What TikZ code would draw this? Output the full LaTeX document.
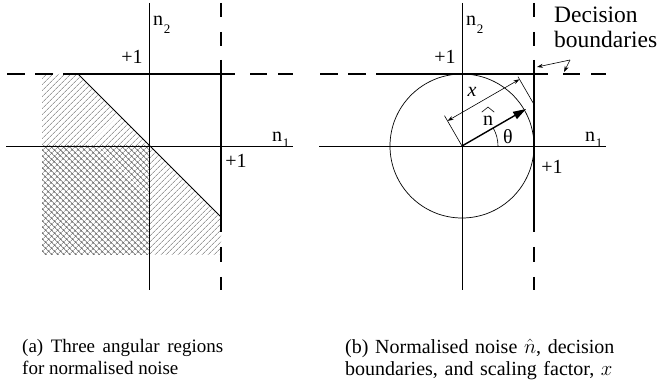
\documentclass[tikz,border=0pt]{standalone}
\usepackage{fontspec}
\setmainfont{Liberation Serif}
\usetikzlibrary{patterns.meta,arrows.meta,calc}
\begin{document}
\begin{tikzpicture}[x=1pt,y=1pt,
  axis/.style={line width=0.8pt},
  thickb/.style={line width=2.8pt},
  lbl/.style={inner sep=0pt,font=\fontsize{20}{24}\selectfont},
  subl/.style={inner sep=0pt,font=\fontsize{13}{13}\selectfont},
  capt/.style={inner sep=0pt,anchor=north west},
  hatchA/.style={pattern={Lines[angle=45,distance=4pt,line width=0.55pt]},pattern color=black!60},
  hatchX/.style={pattern={Hatch[angle=45,distance=4pt,line width=0.55pt]},pattern color=black!60},
  dimarrow/.style={line width=0.6pt,{Stealth[length=6pt,width=4pt]}-{Stealth[length=6pt,width=4pt]}},
  ptr/.style={line width=0.6pt,-{Stealth[length=6pt,width=4pt]}},
]
\useasboundingbox (0,0) rectangle (657,-390);

% ---------------- left panel ----------------
\fill[hatchA] (42,-74) -- (78,-74) -- (149,-146) -- (42,-146) -- cycle;
\fill[hatchX] (42,-146) rectangle (149,-255);
\fill[hatchA] (149,-146) -- (221,-218) -- (221,-255) -- (149,-255) -- cycle;
\draw[axis] (149,-3) -- (149,-290);
\draw[axis] (6,-146) -- (293,-146);
\draw[line width=0.8pt] (78,-74) -- (221,-217);
\draw[thickb,dash pattern=on 18pt off 10pt] (7,-74) -- (63,-74);
\draw[thickb] (63,-74) -- (235,-74);
\draw[thickb,dash pattern=on 17pt off 11pt] (250,-74) -- (293,-74);
\draw[thickb,dash pattern=on 14pt off 15pt] (221,-3) -- (221,-60);
\draw[thickb] (221,-60) -- (221,-232);
\draw[thickb,dash pattern=on 15pt off 15pt] (221,-247) -- (221,-290);

\node[lbl] (n2a) at (158,-21) {n};
\node[subl] (n2as) at (167,-29) {2};
\node[lbl] (p1a) at (132,-57) {+1};
\node[lbl] (n1a) at (277,-137) {n};
\node[subl] (n1as) at (286,-143) {1};
\node[lbl] (p1b) at (236,-161) {+1};

% ---------------- right panel ----------------
\coordinate (O) at (462,-146);
\draw[line width=0.7pt] (O) circle[radius=72];
\draw[axis] (462,-3) -- (462,-290);
\draw[axis] (319,-146) -- (606,-146);
\draw[thickb,dash pattern=on 18pt off 10pt] (320,-74) -- (376,-74);
\draw[thickb] (376,-74) -- (548,-74);
\draw[thickb,dash pattern=on 17pt off 11pt] (563,-74) -- (606,-74);
\draw[thickb,dash pattern=on 14pt off 15pt] (534,-3) -- (534,-60);
\draw[thickb] (534,-60) -- (534,-232);
\draw[thickb,dash pattern=on 15pt off 15pt] (534,-247) -- (534,-290);

\coordinate (H) at ($(O)+(72,41.57)$);
\coordinate (T) at ($(O)+(30:74)$);
\draw[line width=1.4pt,-{Triangle[length=13pt,width=8pt]}] (O) -- (T);
\draw[line width=0.6pt] (O) -- ($(O)+(120:35)$);
\draw[line width=0.6pt] (H) -- ($(H)+(120:32)$);
\draw[dimarrow] ($(O)+(120:29)$) -- ($(H)+(120:29)$);
\draw[line width=0.6pt] ($(O)+(36,0)$) arc[start angle=0,end angle=30,radius=36];

\node[lbl] (n2b) at (471,-21) {n};
\node[subl] (n2bs) at (480,-29) {2};
\node[lbl] (p1c) at (445,-57) {+1};
\node[lbl] (n1b) at (590,-137) {n};
\node[subl] (n1bs) at (599,-143) {1};
\node[lbl] (p1d) at (552,-167) {+1};
\node[lbl] (nh) at (488,-121) {n};
\draw[line width=0.6pt] ($(nh.north west)+(-1,4)$) -- ($(nh.north)+(0,9)$) -- ($(nh.north east)+(1,4)$);
\node[lbl] (th) at (508,-137) {θ};
\node[lbl] (xl) at (472,-92) {\textit{x}};

\node[lbl,anchor=base west,font=\fontsize{23.5}{25}\selectfont] (dec1) at (554,-23) {Decision};
\node[lbl,anchor=base west,font=\fontsize{23.5}{25}\selectfont] (dec2) at (554,-48) {boundaries};
\coordinate (db) at (570,-60);
\draw[ptr] (db) -- (537,-67);
\draw[ptr] (db) -- (564,-72);

% ---------------- captions ----------------
\node[capt,text width=201pt,align=justify,font=\fontsize{19}{22}\selectfont] (capa) at (22,-339) {(a) Three angular regions for normalised noise};
\node[capt,text width=285pt,align=left,font=\fontsize{20}{22}\selectfont] (capb) at (345,-339) {(b) Normalised noise $\hat{n}$, decision\\ boundaries, and scaling factor, $x$};
\end{tikzpicture}
\end{document}
